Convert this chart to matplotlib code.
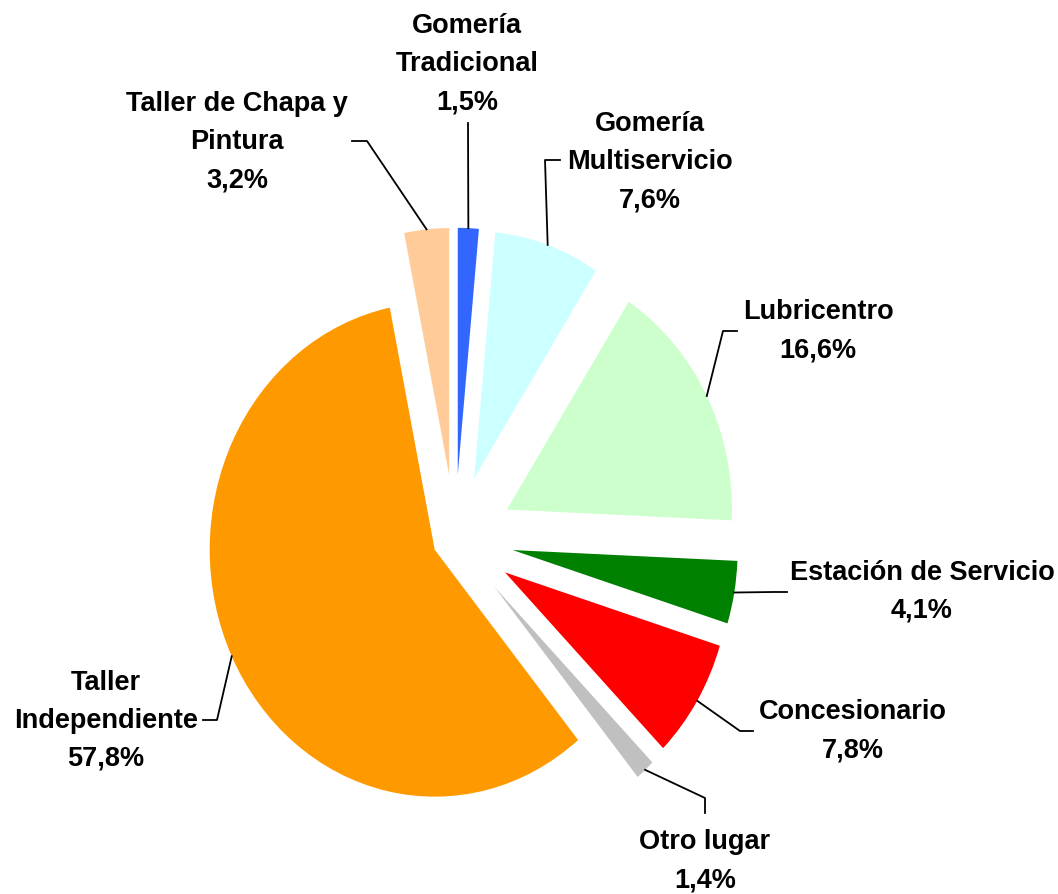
import numpy as np
import matplotlib.pyplot as plt

# Datos del gráfico (orden horario desde las 12)
categorias = ['Gomería\nTradicional', 'Gomería\nMultiservicio', 'Lubricentro',
              'Estación de Servicio', 'Concesionario', 'Otro lugar',
              'Taller\nIndependiente', 'Taller de Chapa y\nPintura']
porcentajes = [1.5, 7.6, 16.6, 4.1, 7.8, 1.4, 57.8, 3.2]

colores = ['#3366FF', '#CCFFFF', '#CCFFCC', '#008000', '#FF0000',
           '#C0C0C0', '#FF9900', '#FFCC99']
separacion = [0.26, 0.26, 0.26, 0.26, 0.26, 0.26, 0.10, 0.26]

# Posición de las etiquetas y de los codos de las líneas guía (en píxeles)
pos_texto = [(467, 64), (650, 162), (818, 331), (922, 592),
             (853, 731), (705, 861), (106, 721), (237, 142)]
codos = [[(468, 123)],
         [(545, 160), (560, 160)],
         [(723, 331), (737, 331)],
         [(773, 592), (787, 592)],
         [(740, 731), (753, 731)],
         [(705, 798), (705, 813)],
         [(217, 720), (203, 720)],
         [(367, 141), (352, 141)]]

W, H = 1058, 894
CX, CY = 455, 539      # centro de la torta en píxeles
RX, RY = 225, 247      # radio horizontal y vertical en píxeles
XMIN, XMAX = -CX / RX, (W - CX) / RX
YMIN, YMAX = -(H - CY) / RY, CY / RY


def px(x, y):
    """Convierte píxeles de la imagen a coordenadas de datos."""
    return (XMIN + x / W * (XMAX - XMIN), YMAX - y / H * (YMAX - YMIN))


fig = plt.figure(figsize=(W / 100, H / 100), dpi=100)
ax = fig.add_axes([0, 0, 1, 1])

wedges, _ = ax.pie(porcentajes, colors=colores, explode=separacion,
                   startangle=90, counterclock=False,
                   wedgeprops=dict(linewidth=0))
ax.set_aspect('auto')
ax.set_xlim(XMIN, XMAX)
ax.set_ylim(YMIN, YMAX)
ax.axis('off')

for w, cat, val, (tx, ty), pts in zip(wedges, categorias, porcentajes,
                                       pos_texto, codos):
    medio = np.deg2rad((w.theta1 + w.theta2) / 2)
    ax_ = w.center[0] + w.r * np.cos(medio)
    ay_ = w.center[1] + w.r * np.sin(medio)
    xs = [ax_] + [px(*p)[0] for p in pts]
    ys = [ay_] + [px(*p)[1] for p in pts]
    ax.plot(xs, ys, color='black', linewidth=1.3)

    etiqueta = cat + '\n' + f'{val:.1f}'.replace('.', ',') + '%'
    x, y = px(tx, ty)
    ax.text(x, y, etiqueta, ha='center', va='center', fontsize=19.5,
            fontweight='bold', family='Liberation Sans', linespacing=1.6)

fig.savefig('out.png', dpi=100)
